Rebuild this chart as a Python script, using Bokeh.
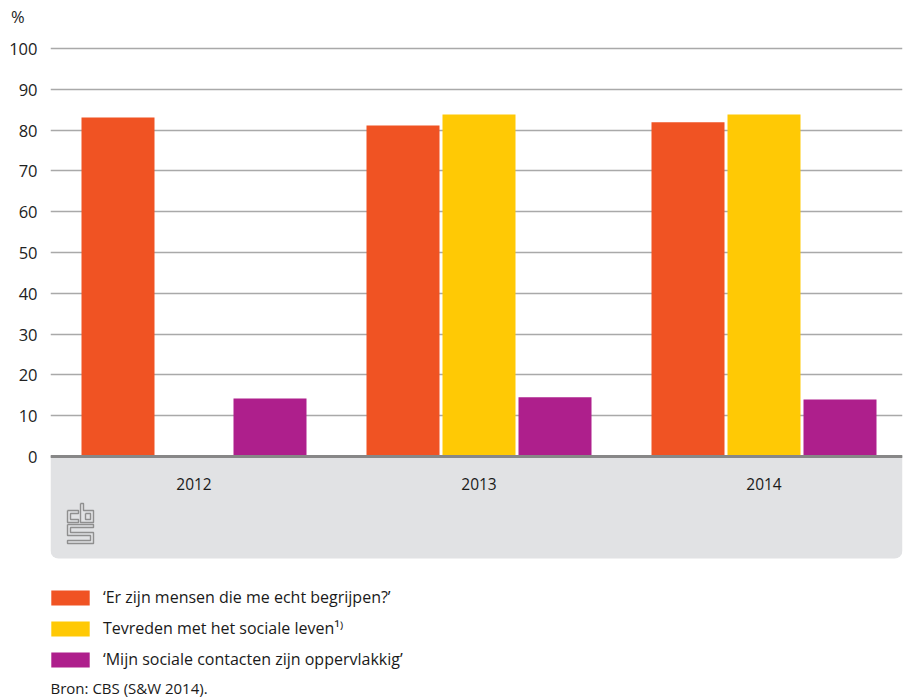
import numpy as np
from bokeh.plotting import figure
from bokeh.models import (Range1d, FixedTicker, Span, Legend, LegendItem, Label)
from bokeh.core.properties import value
from bokeh.embed import file_html
from bokeh.resources import INLINE

# ---------------- data ----------------
years = ["2012", "2013", "2014"]
begrijpen = [83.1, 81.1, 81.9]          # 'Er zijn mensen die me echt begrijpen?'
tevreden = [None, 83.8, 83.8]           # Tevreden met het sociale leven 1)
oppervlakkig = [14.2, 14.5, 14.0]       # 'Mijn sociale contacten zijn oppervlakkig'
series_labels = ["\u2018Er zijn mensen die me echt begrijpen?\u2019",
                 "Tevreden met het sociale leven\u00b9\u207e",
                 "\u2018Mijn sociale contacten zijn oppervlakkig\u2019"]
series_colors = ["#f05323", "#ffc905", "#ae1f8c"]
y_ticks = list(range(0, 101, 10))
unit_text = "%"
source_text = "Bron: CBS (S&W 2014)."

FONT = "Open Sans"
W, H = 905, 698
LEFT, TOP, RIGHT = 50, 0, 3
PX_X = 285.0      # px per category unit
PX_Y = 4.08       # px per percent
ZERO_PX = 456     # y pixel of value 0

x0 = -(193.5 - LEFT) / PX_X
x1 = x0 + (W - RIGHT - LEFT) / PX_X
y1 = 100 + (ZERO_PX - 100 * PX_Y - TOP) / PX_Y
y0 = -(H - ZERO_PX) / PX_Y
unit_pos = 100 + 32 / PX_Y

p = figure(width=W, height=H, output_backend="svg", toolbar_location=None,
           x_range=Range1d(x0, x1), y_range=Range1d(y0, y1),
           x_axis_location=None, min_border_left=LEFT, min_border_right=RIGHT,
           min_border_top=TOP, min_border_bottom=0)
p.outline_line_color = None
p.background_fill_color = "white"
p.border_fill_color = "white"

# y axis (the "%" unit sits on top of the axis as an extra label)
ya = p.yaxis[0]
ya.ticker = FixedTicker(ticks=y_ticks + [unit_pos])
ya.major_label_overrides = {unit_pos: unit_text + "\u00a0\u00a0\u00a0"}
ya.axis_line_color = None
ya.major_tick_line_color = None
ya.minor_tick_line_color = None
ya.major_tick_out = 0
ya.major_tick_in = 0
ya.major_label_standoff = 13
ya.major_label_text_font = FONT
ya.major_label_text_font_size = "16.5px"
ya.major_label_text_color = "#222222"

p.xgrid.visible = False
p.ygrid.ticker = FixedTicker(ticks=y_ticks)
p.ygrid.grid_line_color = "#a9a9a9"
p.ygrid.grid_line_width = 1.3

# grey band under the axis
band_h = 102 / PX_Y
p.quad(left=[x0], right=[x1], top=[0], bottom=[-band_h], fill_color="#e1e2e4",
       line_color=None, border_radius=(0, 0, 8, 8))

# bars
xs = np.arange(len(years))
bw = 73 / PX_X
off = 76 / PX_X
renderers = []
for k, (vals, col) in enumerate(zip([begrijpen, tevreden, oppervlakkig], series_colors)):
    xx = [xs[i] + (k - 1) * off for i in range(len(years)) if vals[i] is not None]
    tt = [vals[i] for i in range(len(years)) if vals[i] is not None]
    r = p.vbar(x=xx, top=tt, bottom=0, width=bw, fill_color=col, line_color=None)
    renderers.append(r)

# zero axis line
p.add_layout(Span(location=0, dimension="width", line_color="#878787", line_width=3))

# year labels
p.text(x=xs, y=[-(27 / PX_Y)] * len(years), text=years, text_align="center",
       text_baseline="middle", text_font=value(FONT), text_font_size="15.5px",
       text_color="#1a1a1a")

# CBS logo (decoration)
ox, oy = 17, 47  # offset from frame left / zero line in px
shapes = [
    [(0, 7), (11, 7), (11, 10), (3, 10), (3, 16), (11, 16), (11, 19), (0, 19), (0, 7)],
    [(13, 0), (16, 0), (16, 7), (26, 7), (26, 19), (13, 19), (13, 0)],
    [(18, 10), (23, 10), (23, 16), (18, 16), (18, 10)],
    [(0, 21), (26, 21), (26, 24), (3, 24), (3, 29), (26, 29), (26, 40), (0, 40),
     (0, 37), (23, 37), (23, 32), (0, 32), (0, 21)],
]
p.multi_line(xs=[[x0 + (ox + a) / PX_X for a, b in s] for s in shapes],
             ys=[[-(oy + b) / PX_Y for a, b in s] for s in shapes],
             line_color="#8f8f8f", line_width=1.4)

# legend (bar swatches are drawn with a 10% inset, so enlarge the glyph box)
legend = Legend(items=[LegendItem(label=l, renderers=[r]) for l, r in zip(series_labels, renderers)],
                location=(-4, 28), orientation="vertical", glyph_width=48, glyph_height=19,
                label_height=15, spacing=9, padding=0, margin=0, label_standoff=9,
                border_line_color=None, background_fill_alpha=0,
                label_text_font=FONT, label_text_font_size="16px", label_text_color="#1a1a1a")
p.add_layout(legend)

# source
p.add_layout(Label(x=x0, y=-(687 - ZERO_PX) / PX_Y, text=source_text, text_baseline="middle",
                   text_font=FONT, text_font_size="15px", text_color="#1a1a1a"))

open("out.html", "w").write(file_html(p, INLINE))
